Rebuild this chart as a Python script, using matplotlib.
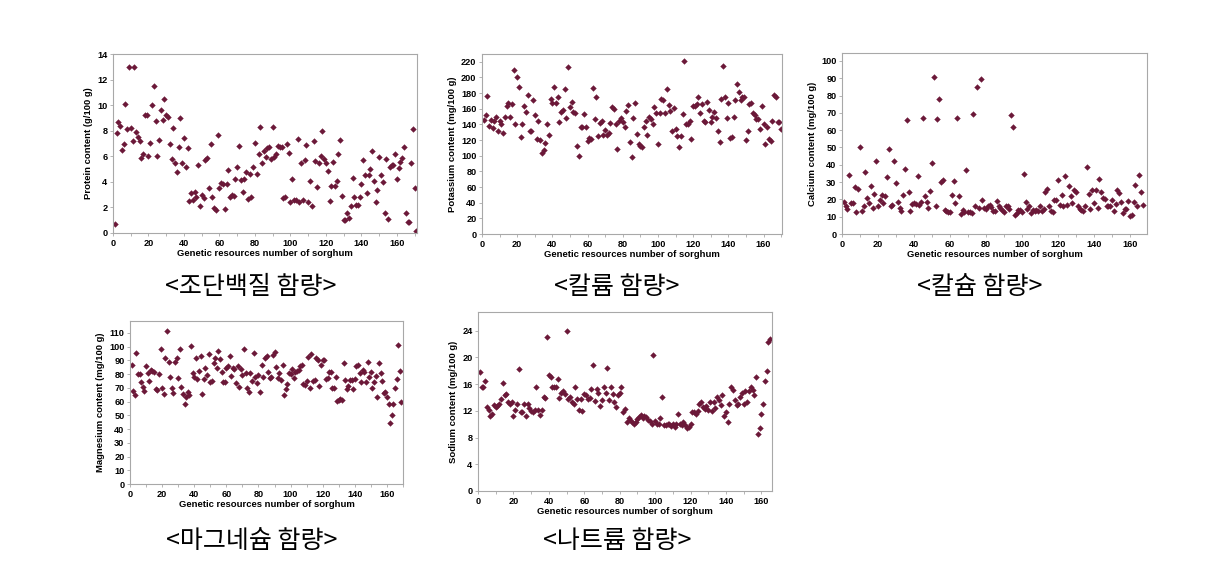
import matplotlib
matplotlib.use('Agg')
import matplotlib.pyplot as plt
from matplotlib.ticker import MultipleLocator

# ---------------- data ----------------
protein = [0.7, 7.8, 8.7, 8.4, 6.5, 7.0, 10.1, 8.1, 12.95, 8.25, 7.2, 12.95, 7.9, 7.5, 7.2,
           5.9, 6.2, 9.2, 9.2, 6.0, 7.05, 10.0, 11.5, 8.75, 6.0, 7.25, 9.6, 8.85, 10.5, 9.2,
           9.1, 7.0, 5.75, 8.25, 5.45, 4.75, 6.75, 9.0, 5.45, 7.45, 5.2, 6.65, 2.5, 3.1, 2.6,
           3.2, 2.8, 5.3, 2.15, 3.0, 2.7, 5.7, 5.9, 3.5, 6.95, 2.8, 1.95, 1.8, 7.7, 3.5,
           3.9, 3.8, 1.9, 3.8, 4.9, 2.8, 2.95, 2.9, 4.2, 5.2, 6.8, 4.15, 3.2, 4.2, 4.8,
           2.65, 4.65, 2.8, 5.15, 7.05, 4.6, 6.15, 8.3, 5.45, 6.4, 5.95, 6.65, 6.7, 5.75, 8.3,
           5.95, 6.15, 6.8, 6.75, 6.7, 2.75, 2.8, 7.0, 6.25, 2.4, 4.25, 2.55, 2.6, 7.35, 2.4,
           5.45, 2.6, 5.7, 6.9, 2.4, 4.1, 2.15, 7.2, 5.6, 3.6, 5.45, 6.0, 7.95, 5.8, 5.45,
           4.85, 2.5, 3.7, 5.55, 3.7, 4.05, 6.2, 7.3, 2.9, 1.0, 1.0, 1.55, 1.2, 2.1, 4.3,
           2.8, 2.2, 2.2, 2.8, 3.8, 5.7, 4.5, 3.15, 4.5, 5.0, 6.4, 4.1, 2.4, 3.4, 5.95,
           4.55, 4.0, 1.6, 5.75, 1.1, 5.2, 5.3, 5.35, 6.15, 4.25, 5.05, 5.55, 5.85, 6.75, 1.6,
           0.85, 0.85, 5.5, 8.1, 3.5, 0.15]

potassium = [146, 152, 176, 138, 146, 135, 145, 150, 131, 144, 141, 129, 150, 163, 168,
             150, 166, 209, 141, 200, 188, 124, 141, 164, 156, 177, 132, 131, 171, 152,
             121, 145, 120, 104, 107, 116, 140, 126, 173, 168, 188, 168, 175, 143, 156,
             158, 185, 148, 214, 162, 169, 156, 154, 113, 100, 137, 137, 153, 137, 119,
             123, 121, 186, 147, 175, 125, 142, 145, 127, 133, 126, 129, 142, 162, 160,
             140, 108, 144, 148, 143, 137, 157, 165, 118, 99, 148, 167, 128, 115, 112,
             111, 137, 144, 126, 149, 147, 140, 162, 155, 115, 154, 173, 171, 155, 185,
             165, 157, 132, 161, 134, 125, 111, 125, 153, 221, 140, 140, 145, 121, 163,
             164, 166, 175, 154, 166, 145, 143, 169, 159, 143, 150, 156, 148, 131, 118,
             173, 215, 175, 148, 168, 123, 124, 149, 171, 192, 182, 171, 175, 175, 120,
             132, 166, 168, 154, 152, 147, 147, 134, 163, 141, 115, 137, 121, 119, 145,
             177, 175, 143, 143, 134]

calcium = [18.5, 16.3, 14.4, 34.2, 18.1, 18.1, 27.3, 12.5, 26.0, 50.2, 13.3, 16.0, 35.6, 21.0,
           17.9, 27.9, 15.2, 23.3, 41.9, 16.2, 19.4, 22.3, 17.9, 22.1, 32.7, 49.4, 16.0, 16.5,
           41.9, 29.4, 18.3, 15.2, 13.3, 22.7, 37.5, 66.0, 24.0, 13.1, 17.5, 18.1, 17.5, 33.8,
           16.9, 18.3, 67.3, 21.7, 18.3, 15.0, 24.6, 41.0, 90.8, 16.3, 66.5, 77.9, 29.8, 31.3,
           14.0, 13.5, 12.5, 12.5, 22.7, 30.8, 18.1, 67.3, 22.1, 11.5, 13.7, 12.9, 37.1, 12.9,
           12.7, 12.1, 69.4, 16.3, 85.2, 15.0, 89.4, 19.6, 14.8,
           14.4, 16.0, 16.9, 15.6, 13.3, 13.3, 18.8, 16.0, 15.0, 14.0, 12.5, 16.0, 16.3, 14.4,
           68.8, 61.7, 11.2, 12.1, 14.0, 13.7, 12.5, 34.8, 18.3, 14.4, 16.3, 12.1, 14.0, 13.5,
           13.7, 13.1, 16.3, 13.1, 14.4, 24.0, 26.0, 16.0, 13.1, 12.5, 19.4, 19.8, 31.3, 16.9,
           22.7, 16.3, 33.8, 16.5, 27.5, 21.7, 17.9, 25.6, 24.0, 16.0, 14.4, 13.7, 13.1, 16.0,
           39.0, 23.3, 14.4, 25.6, 17.9, 25.6, 15.0, 31.7, 24.0, 20.8, 20.2, 16.0, 16.3, 16.0,
           19.8, 13.1, 17.5, 25.6, 23.7, 18.3, 12.1, 14.4, 14.4, 18.8, 10.2, 11.2, 18.3, 28.5,
           16.0, 34.0, 24.0, 17.0]

magnesium = [86.6, 67.7, 64.8, 95.5, 80.0, 80.0, 74.5, 70.8, 67.9, 85.8, 80.5, 75.0, 82.9, 82.2,
             81.2, 68.9, 68.4, 80.0, 98.2, 70.1, 65.3, 91.4, 111.2, 89.0, 78.1, 70.1, 66.5, 89.0,
             91.4, 76.9, 98.2, 70.8, 65.3, 58.0, 63.6, 67.2, 64.8, 100.3, 81.0, 78.1, 91.4, 76.2,
             82.2, 93.3, 65.3, 76.2, 84.6, 79.3, 94.8, 74.5, 75.2, 88.2, 92.1, 84.6, 96.7, 90.9,
             81.7, 74.5, 74.0, 84.6, 86.1, 93.1, 78.6, 84.6, 83.7, 73.3, 85.8, 70.8, 83.4, 79.3,
             98.6, 80.5, 70.1, 66.7, 80.5, 75.2, 95.5, 78.1, 73.3, 79.3, 66.7, 87.0, 78.1, 92.1,
             93.1, 81.2, 76.9, 77.6, 93.8,
             96.2, 85.3, 76.9, 80.5, 75.7, 86.6, 64.8, 69.1, 72.8, 80.5, 79.8, 84.1, 76.9, 81.7,
             82.2, 82.9, 86.1, 86.6, 72.5, 72.0, 75.0, 92.6, 70.1, 94.8, 75.0, 75.4, 91.4, 90.2,
             71.3, 86.6, 90.2, 90.2, 76.2, 76.9, 81.7, 81.2, 69.6, 70.1, 78.1, 60.4, 61.2, 61.9,
             60.9, 88.0, 75.7, 69.1, 71.6, 75.7, 75.7, 69.1, 76.4, 86.1, 86.6, 80.5, 74.5, 82.9,
             81.2, 74.5, 88.5, 78.1, 81.2, 69.6, 74.5, 78.8, 63.6, 87.8, 80.5, 75.0, 66.0, 67.2,
             63.6, 58.0, 44.2, 50.3, 58.0, 69.6, 76.2, 101.0, 82.2, 59.5]

sodium = [17.8, 15.6, 15.5, 16.4, 12.6, 12.1, 11.2, 11.5, 12.9, 12.6, 12.8, 13.0, 13.8, 16.1,
          14.4, 14.5, 13.4, 13.0, 13.3, 11.2, 12.2, 13.0, 18.2, 11.9, 11.8, 13.0, 11.2, 13.0,
          12.5, 12.0, 11.9, 12.2, 15.5, 12.2, 11.4, 12.2, 14.1, 13.9, 23.0, 17.3, 17.1, 15.6,
          15.5, 15.6, 16.8, 13.9, 14.6, 14.9, 14.5, 24.0, 13.7, 14.0, 13.4, 13.0, 15.5, 13.7,
          12.2, 13.7, 12.0, 14.5, 14.4, 13.7, 13.9, 15.3, 18.9, 13.5, 15.3, 14.6, 12.7, 13.6,
          15.6, 14.6, 18.4, 13.6,
          15.6, 14.5, 13.4, 12.6, 14.4, 14.6, 15.6, 11.8, 12.3, 10.4, 10.9, 10.6, 10.3, 10.1,
          10.4, 10.8, 11.1, 11.4, 11.0, 11.3, 11.1, 10.6, 10.5, 10.0, 20.3, 10.5, 10.1,
          10.0, 10.9, 14.0, 9.9, 9.9, 10.1, 10.0, 9.8, 10.0, 9.6, 10.1, 11.5, 10.1,
          9.9, 10.4, 9.9, 9.4, 9.6, 10.1,
          11.8, 11.9, 11.5, 12.0, 13.0, 13.4, 12.6, 12.3, 12.8, 12.1, 13.4, 12.0, 13.4, 12.4,
          14.0, 13.6, 12.9, 14.4, 11.3, 11.8, 10.4, 13.1, 15.5, 15.1, 13.6, 12.9, 13.0, 14.1,
          14.6, 13.1, 15.0, 13.4, 14.9, 15.6, 15.1, 14.4, 17.0, 8.6, 9.5, 11.5, 13.0, 16.5,
          18.0, 22.3, 22.7]

titles = ['<조단백질 함량>', '<칼륨 함량>', '<칼슘 함량>', '<마그네슘 함량>', '<나트륨 함량>']
ylabels = ['Protein content (g/100 g)', 'Potassium content (mg/100 g)',
           'Calcium content (mg/100 g)', 'Magnesium content (mg/100 g)',
           'Sodium content (mg/100 g)']
xlabel = 'Genetic resources number of sorghum'

# ---------------- layout ----------------
W, H = 1220, 566
fig = plt.figure(figsize=(W / 100, H / 100), dpi=100)
fig.patch.set_facecolor('white')

MARK = '#6b1838'
FRAME = '#a8a8a8'
LATIN = ['Liberation Sans', 'DejaVu Sans']
CJK = ['Noto Sans CJK KR', 'DejaVu Sans']


def panel(rect, values, ymax, ystep, xmax, ylabel, title, cap_xy):
    l, t, r, b = rect
    ax = fig.add_axes([l / W, 1 - b / H, (r - l) / W, (b - t) / H])
    xs = list(range(1, len(values) + 1))
    ax.plot(xs, values, linestyle='none', marker='D', ms=2.9, color=MARK,
            mec=MARK, mew=0.3)
    ax.set_xlim(0, xmax)
    ax.set_ylim(0, ymax)
    ax.xaxis.set_major_locator(MultipleLocator(20))
    ax.xaxis.set_minor_locator(MultipleLocator(10))
    ax.yaxis.set_major_locator(MultipleLocator(ystep))
    for s in ax.spines.values():
        s.set_color(FRAME)
        s.set_linewidth(0.8)
    ax.tick_params(axis='both', which='both', length=2.5, width=0.6,
                   color=FRAME, pad=1.5, labelsize=6.6)
    for lab in ax.get_xticklabels() + ax.get_yticklabels():
        lab.set_fontweight('bold')
        lab.set_family(LATIN)
    ax.set_xlabel(xlabel, fontsize=6.8, fontweight='bold', family=LATIN, labelpad=1)
    ax.set_ylabel(ylabel, fontsize=6.8, fontweight='bold', family=LATIN, labelpad=3)
    fig.text(cap_xy[0] / W, 1 - cap_xy[1] / H, title, ha='center', va='center',
             fontsize=18, family=CJK)
    return ax


panel((113, 54, 417, 233), protein, 14, 2, 171.3, ylabels[0], titles[0], (251, 287))
panel((482, 54, 782, 234), potassium, 230, 20, 170.5, ylabels[1], titles[1], (617, 287))
panel((842, 53, 1147, 234), calcium, 104.6, 10, 169.4, ylabels[2], titles[2], (980, 287))
panel((130, 321, 403, 484), magnesium, 118.7, 10, 170, ylabels[3], titles[3], (252, 541))
panel((478, 312, 772, 491), sodium, 26.8, 4, 166, ylabels[4], titles[4], (617, 541))

fig.savefig('out.png', dpi=100, facecolor='white')
